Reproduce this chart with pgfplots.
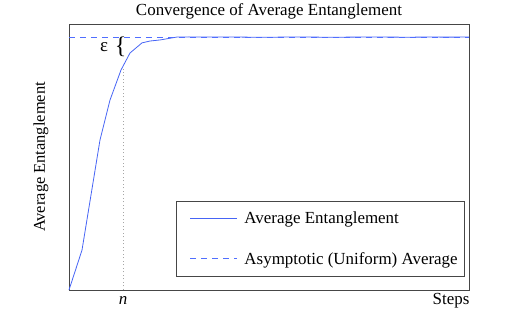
\documentclass[border=0pt]{standalone}
\usepackage{fontspec}
\setmainfont{Liberation Serif}
\usepackage{pgfplots}
\pgfplotsset{compat=1.18}
\definecolor{curveblue}{RGB}{70,100,245}
\definecolor{dashblue}{RGB}{80,110,255}
\definecolor{framegray}{RGB}{70,70,70}
\begin{document}
\begin{tikzpicture}
\useasboundingbox (-69bp,-37bp) rectangle (449bp,290bp);
\begin{axis}[
  at={(0,0)}, anchor=south west,
  scale only axis,
  width=400bp, height=266bp,
  xmin=0, xmax=100, ymin=0, ymax=1,
  axis line style={framegray, line width=0.8bp},
  xtick={13.5}, xticklabels={\textit{n}},
  ytick=\empty,
  major tick length=0pt,
  xticklabel style={anchor=center, yshift=-11bp, font=\fontsize{17}{20}\selectfont},
  title={Convergence of Average Entanglement},
  title style={at={(rel axis cs:0.5,1)}, anchor=center, yshift=7bp, font=\fontsize{17}{20}\selectfont},
  xlabel={Steps},
  xlabel style={at={(rel axis cs:0.955,0)}, anchor=center, yshift=-11bp, font=\fontsize{17}{20}\selectfont},
  ylabel={Average Entanglement},
  ylabel style={at={(rel axis cs:0,0.5)}, anchor=center, yshift=28bp, font=\fontsize{16.5}{20}\selectfont},
  legend style={at={(rel axis cs:0.99,0.049)}, anchor=south east,
    draw=framegray, line width=0.6bp, fill=white,
    font=\fontsize{17}{20}\selectfont,
    inner xsep=5bp, inner ysep=9bp, row sep=23bp,
    cells={anchor=west}},
  legend image code/.code={\path (-8bp,0bp); \draw[#1] (0bp,0bp) -- (47bp,0bp); \path (52bp,0bp);},
  clip=false,
]
\addplot[curveblue, line width=0.8bp] coordinates {
  (0,0) (3.25,0.150) (7.75,0.564) (10.25,0.714) (13,0.827) (15.25,0.891)
  (18.25,0.929) (20.25,0.936) (22.75,0.940) (27,0.951) (30,0.9515)
  (35,0.951) (40,0.9512) (45,0.9505) (50,0.9502) (55,0.951) (60,0.9508)
  (65,0.9503) (70,0.9506) (75,0.9511) (80,0.9507) (85,0.9504) (90,0.9509)
  (95,0.9506) (100,0.951)
};
\addlegendentry{Average Entanglement}
\addplot[color=dashblue, line width=1bp, dash pattern=on 6bp off 5bp] coordinates {
  (0,0.951) (100,0.951)
};
\addlegendentry{Asymptotic (Uniform) Average}
\addplot[gray!70, line width=0.7bp, dash pattern=on 1bp off 2.5bp, forget plot] coordinates {
  (13.5,0) (13.5,0.83)
};
\node[font=\fontsize{19}{20}\selectfont] at (axis cs:8.75,0.914) {ε};
\node[font=\fontsize{24}{24}\selectfont] at (axis cs:12.9,0.914) {\{};
\end{axis}
\end{tikzpicture}
\end{document}
